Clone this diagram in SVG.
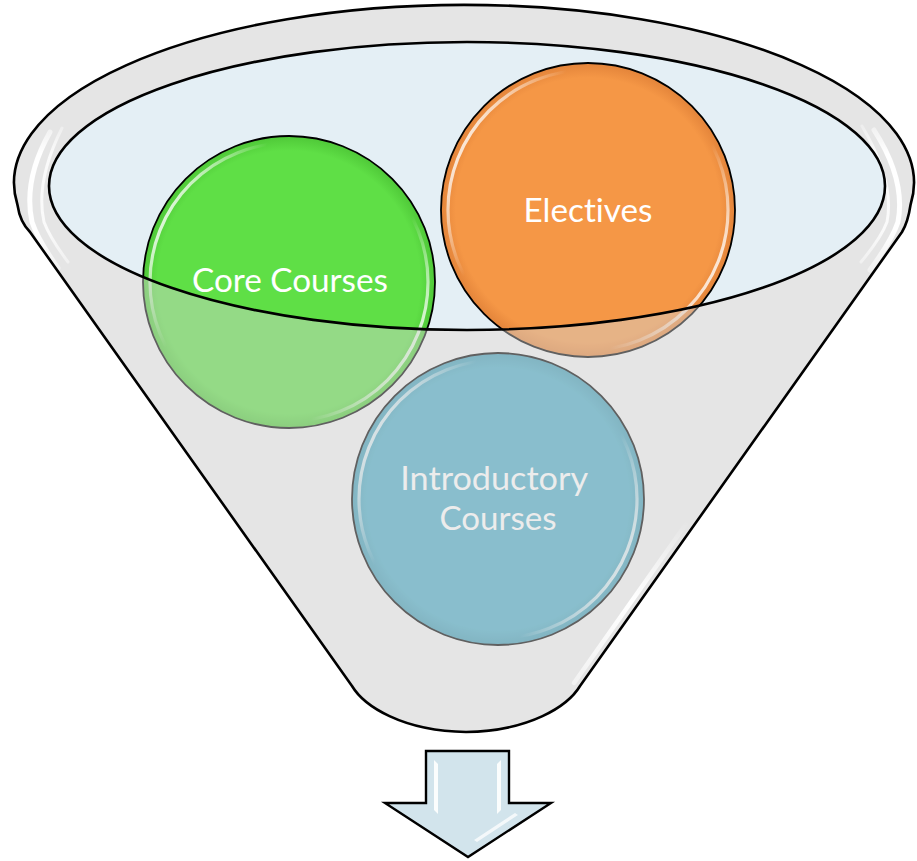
<svg xmlns="http://www.w3.org/2000/svg" width="917" height="861" viewBox="0 0 917 861">
  <defs>
    <style>
      .ball-edge { stroke: #000; stroke-width: 1.8; }
      .gloss { fill: none; stroke: url(#gloss); stroke-width: 3.2; }
      .label { font-family: Lato, "Open Sans", "Liberation Sans", sans-serif; font-size: 33px; fill: #fff; text-anchor: middle; font-variant-ligatures: none; }
      .outline { fill: none; stroke: #000; stroke-width: 2.6; stroke-linejoin: round; }
      .shine { fill: none; stroke-linecap: round; }
    </style>
    <!-- glossy rim on each ball: bright upper-left and lower-right -->
    <linearGradient id="gloss" x1="0" y1="0.25" x2="1" y2="0.75">
      <stop offset="0" stop-color="#fff" stop-opacity="1"/>
      <stop offset="0.24" stop-color="#fff" stop-opacity="0"/>
      <stop offset="0.76" stop-color="#fff" stop-opacity="0"/>
      <stop offset="1" stop-color="#fff" stop-opacity="1"/>
    </linearGradient>
    <radialGradient id="fill-green">
      <stop offset="0.9" stop-color="#5fdf46"/>
      <stop offset="1" stop-color="#4fc838"/>
    </radialGradient>
    <radialGradient id="fill-orange">
      <stop offset="0.9" stop-color="#f59746"/>
      <stop offset="1" stop-color="#e3843a"/>
    </radialGradient>
    <radialGradient id="fill-aqua">
      <stop offset="0.9" stop-color="#4bacc6"/>
      <stop offset="1" stop-color="#3f9ab3"/>
    </radialGradient>
    <!-- vertical fades for the rim highlights -->
    <linearGradient id="rim-shine" gradientUnits="userSpaceOnUse" x1="0" y1="105" x2="0" y2="300">
      <stop offset="0" stop-color="#fff" stop-opacity="0"/>
      <stop offset="0.25" stop-color="#fff" stop-opacity="1"/>
      <stop offset="0.65" stop-color="#fff" stop-opacity="1"/>
      <stop offset="1" stop-color="#fff" stop-opacity="0"/>
    </linearGradient>
    <linearGradient id="side-shine" gradientUnits="userSpaceOnUse" x1="0" y1="520" x2="0" y2="700">
      <stop offset="0" stop-color="#fff" stop-opacity="0"/>
      <stop offset="0.45" stop-color="#fff" stop-opacity="1"/>
      <stop offset="1" stop-color="#fff" stop-opacity="0.4"/>
    </linearGradient>
    <path id="funnel-shape" d="M17.5,205 A450,178 0 1 1 910.5,205 Q908,222 902,232 L580,686 C568,706 530,731 466,732 C402,731 364,706 352,686 L30,232 Q20,222 17.5,205 Z"/>
  </defs>

  <rect width="917" height="861" fill="#fff"/>

  <!-- funnel body and opening -->
  <g id="funnel">
    <use href="#funnel-shape" fill="#f3f3f3"/>
    <ellipse cx="467" cy="186" rx="418" ry="144" fill="#e4eff5"/>
  </g>

  <!-- balls inside the funnel -->
  <g id="core-courses">
    <circle cx="289" cy="282" r="146" fill="url(#fill-green)" class="ball-edge"/>
    <circle cx="289" cy="282" r="139" class="gloss"/>
    <text x="290" y="292" class="label" textLength="196" lengthAdjust="spacingAndGlyphs">Core Courses</text>
  </g>
  <g id="electives">
    <circle cx="588" cy="210" r="147" fill="url(#fill-orange)" class="ball-edge"/>
    <circle cx="588" cy="210" r="140" class="gloss"/>
    <text x="588" y="222" class="label" textLength="129" lengthAdjust="spacingAndGlyphs">Electives</text>
  </g>
  <g id="introductory-courses">
    <circle cx="498" cy="499" r="146" fill="url(#fill-aqua)" class="ball-edge"/>
    <circle cx="498" cy="499" r="139" class="gloss"/>
    <text class="label">
      <tspan x="498" y="490" textLength="187" lengthAdjust="spacingAndGlyphs">Introductory</tspan>
      <tspan x="498" y="530" textLength="117" lengthAdjust="spacingAndGlyphs">Courses</tspan>
    </text>
  </g>

  <!-- translucent front wall of the funnel over the balls -->
  <path id="funnel-front" fill="#d4d4d4" fill-opacity="0.45" fill-rule="evenodd"
        d="M17.5,205 A450,178 0 1 1 910.5,205 Q908,222 902,232 L580,686 C568,706 530,731 466,732 C402,731 364,706 352,686 L30,232 Q20,222 17.5,205 Z M49,186 A418,144 0 1 0 885,186 A418,144 0 1 0 49,186 Z"/>

  <!-- highlights on the rim and side -->
  <g id="funnel-shine">
    <path class="shine" stroke="url(#rim-shine)" stroke-width="5" d="M50,132 Q23,180 32,222 Q38,240 58,268"/>
    <path class="shine" stroke="url(#rim-shine)" stroke-width="3" d="M62,128 Q35,182 44,222 Q50,238 68,262" opacity="0.8"/>
    <path class="shine" stroke="url(#rim-shine)" stroke-width="5" d="M874,130 Q906,180 898,222 Q892,240 870,270"/>
    <path class="shine" stroke="url(#rim-shine)" stroke-width="3" d="M862,126 Q895,182 887,222 Q881,238 861,262" opacity="0.8"/>
    <path class="shine" stroke="url(#side-shine)" stroke-width="4.5" d="M686,524 L574,683"/>
  </g>

  <g id="funnel-lines">
    <use href="#funnel-shape" class="outline"/>
    <ellipse cx="467" cy="186" rx="418" ry="144" class="outline"/>
  </g>

  <!-- output arrow -->
  <g id="output-arrow">
    <path d="M426,751 H509 V803 H551 L468,857 L385,803 H426 Z" fill="#d2e4ec" stroke="#000" stroke-width="2.4" stroke-linejoin="miter"/>
    <path d="M434,760 L438,764 L438,814 L434,810 Z" fill="#fff" opacity="0.9"/>
    <path d="M501,760 L497,764 L497,814 L501,810 Z" fill="#fff" opacity="0.9"/>
    <path d="M474,840 L515,813 L518,815 L477,842 Z" fill="#fff" opacity="0.75"/>
  </g>
</svg>
